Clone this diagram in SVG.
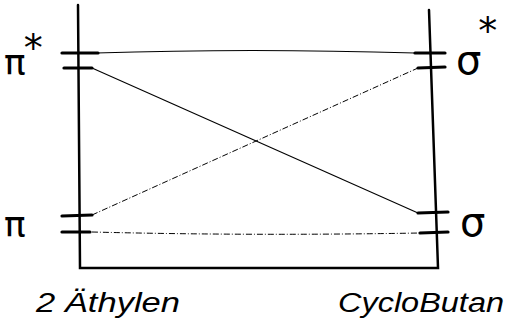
<svg xmlns="http://www.w3.org/2000/svg" width="509" height="325" viewBox="0 0 509 325">
<style>
.axis{stroke:#000;stroke-width:2.5;fill:none;stroke-linecap:round}
.bar{stroke:#000;stroke-width:3.2;fill:none;stroke-linecap:round}
.conn{stroke:#000;stroke-width:1.1;fill:none}
.dash{stroke:#000;stroke-width:1;fill:none;stroke-dasharray:6 2 1 2}
.lbl{font-family:"DejaVu Sans",sans-serif;fill:#000}
.cap{font-family:"Liberation Sans",sans-serif;font-style:italic;fill:#000;font-size:27px}
</style>
<rect width="509" height="325" fill="#fff"/>
<g id="frame">
<path class="axis" d="M78 5 L80 268 L438 268 L429 10"/>
</g>
<g id="pi-star">
<path class="bar" d="M62 53 L98 53"/>
<path class="bar" d="M64 68 L92 68"/>
<text class="lbl" x="4" y="75" font-size="36">π<tspan dx="-2" dy="-14" font-size="38">*</tspan></text>
</g>
<g id="pi">
<path class="bar" d="M62 216 L92 215"/>
<path class="bar" d="M62 232 L90 232"/>
<text class="lbl" x="4" y="237" font-size="36">π</text>
</g>
<g id="sigma-star">
<path class="bar" d="M415 53 L445 53"/>
<path class="bar" d="M418 68 L445 67"/>
<text class="lbl" x="456" y="74" font-size="40">σ<tspan dx="-3" dy="-30" font-size="38">*</tspan></text>
</g>
<g id="sigma">
<path class="bar" d="M418 213 L448 212"/>
<path class="bar" d="M420 233 L448 232"/>
<text class="lbl" x="460" y="236" font-size="40">σ</text>
</g>
<g id="connectors">
<path class="conn" d="M96 53 Q250 48 415 53"/>
<path class="conn" d="M92 68 L418 213"/>
<path class="dash" d="M92 215 L418 68"/>
<path class="dash" d="M92 232 Q250 236 420 233"/>
</g>
<g id="captions">
<text class="cap" x="36" y="312" textLength="144" lengthAdjust="spacingAndGlyphs">2 Äthylen</text>
<text class="cap" x="338" y="312" textLength="166" lengthAdjust="spacingAndGlyphs">CycloButan</text>
</g>
</svg>
